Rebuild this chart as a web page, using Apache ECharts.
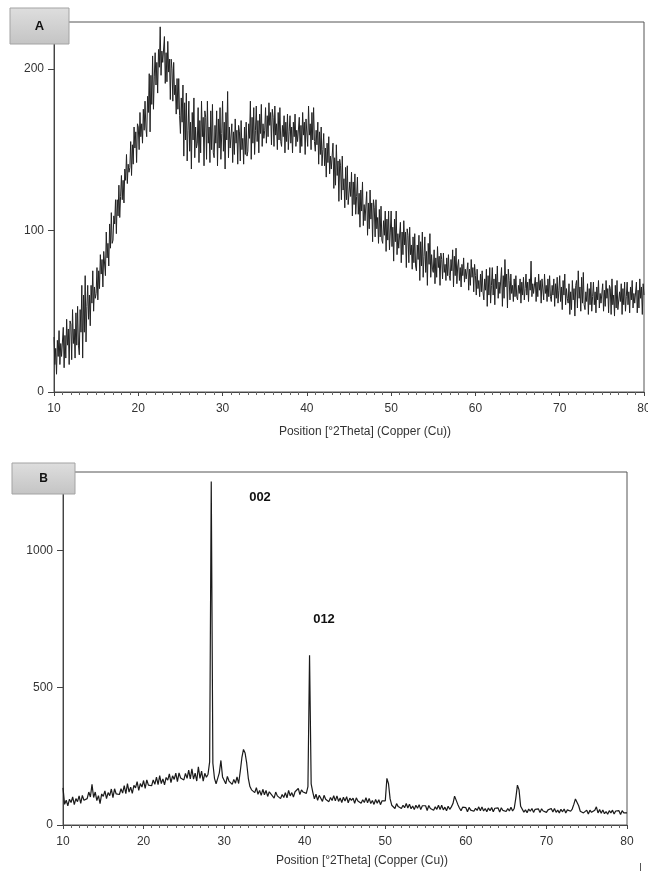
<!DOCTYPE html>
<html>
<head>
<meta charset="utf-8">
<script src="https://cdn.jsdelivr.net/npm/echarts@6/dist/echarts.min.js"></script>
<style>
  html, body { margin: 0; padding: 0; background: #fff; }
  #chart { width: 648px; height: 871px; }
</style>
</head>
<body>
<div id="chart"></div>
<script>
// scan A: start 10 °2θ, step 0.1 (one row per degree)
const startA = 10
const stepA = 0.1
const intensityA = [
  34, 17, 27, 11, 32, 22, 38, 17, 30, 22,
  23, 40, 15, 35, 21, 45, 29, 39, 17, 44,
  42, 20, 51, 30, 39, 21, 49, 29, 53, 29,
  23, 51, 37, 66, 21, 60, 37, 72, 31, 53,
  66, 45, 60, 41, 66, 55, 75, 50, 65, 58,
  61, 77, 57, 75, 64, 85, 73, 82, 65, 87,
  88, 72, 99, 83, 92, 78, 104, 89, 111, 92,
  94, 109, 104, 119, 98, 119, 109, 128, 108, 121,
  134, 119, 131, 117, 138, 131, 147, 129, 141, 136,
  139, 155, 134, 153, 141, 164, 151, 161, 142, 166,
  164, 150, 173, 158, 166, 154, 175, 162, 180, 164,
  158, 183, 173, 197, 161, 196, 178, 208, 175, 195,
  210, 190, 204, 185, 212, 201, 226, 196, 211, 204,
  203, 220, 191, 210, 192, 217, 198, 206, 181, 206,
  200, 180, 204, 184, 190, 172, 194, 175, 194, 171,
  160, 182, 167, 190, 146, 179, 156, 185, 143, 162,
  180, 149, 167, 138, 173, 156, 182, 145, 164, 151,
  154, 176, 142, 168, 148, 180, 158, 170, 140, 174,
  170, 144, 180, 154, 164, 142, 174, 150, 178, 148,
  145, 165, 154, 174, 140, 169, 151, 176, 144, 160,
  180, 149, 167, 138, 173, 156, 186, 145, 164, 151,
  151, 166, 142, 161, 147, 169, 154, 162, 141, 165,
  161, 143, 168, 150, 157, 141, 164, 147, 167, 146,
  149, 166, 157, 180, 144, 170, 154, 176, 147, 162,
  177, 155, 168, 148, 172, 160, 178, 152, 166, 157,
  162, 176, 154, 171, 158, 179, 165, 173, 153, 175,
  170, 152, 177, 159, 166, 150, 173, 156, 176, 155,
  152, 165, 158, 171, 148, 167, 155, 172, 150, 161,
  171, 154, 164, 148, 167, 158, 172, 152, 162, 155,
  156, 170, 148, 165, 152, 173, 159, 167, 147, 169,
  170, 152, 177, 159, 166, 150, 173, 156, 176, 155,
  149, 162, 153, 167, 141, 161, 147, 164, 140, 150,
  160, 140, 151, 133, 154, 142, 158, 135, 146, 138,
  137, 154, 126, 145, 128, 153, 134, 143, 118, 144,
  140, 119, 146, 125, 132, 114, 139, 119, 140, 116,
  115, 130, 121, 136, 109, 130, 116, 135, 110, 121,
  133, 110, 123, 102, 125, 112, 130, 103, 116, 106,
  107, 124, 97, 117, 101, 125, 107, 117, 93, 119,
  114, 96, 119, 101, 108, 92, 113, 96, 115, 94,
  92, 106, 97, 112, 87, 107, 94, 112, 88, 99,
  112, 90, 102, 81, 107, 93, 112, 85, 98, 89,
  90, 105, 80, 99, 85, 106, 91, 99, 77, 101,
  97, 80, 102, 85, 91, 76, 96, 80, 98, 78,
  75, 91, 82, 97, 69, 93, 78, 99, 71, 84,
  96, 74, 87, 66, 92, 79, 98, 71, 85, 76,
  74, 88, 67, 83, 71, 90, 77, 84, 66, 86,
  82, 70, 86, 74, 79, 69, 83, 72, 85, 72,
  69, 82, 75, 88, 65, 84, 72, 89, 67, 78,
  82, 69, 77, 65, 79, 72, 83, 68, 76, 70,
  69, 80, 63, 76, 66, 82, 71, 77, 62, 79,
  72, 60, 76, 64, 69, 59, 73, 62, 75, 62,
  57, 70, 63, 76, 53, 72, 60, 77, 55, 66,
  77, 60, 70, 54, 73, 64, 78, 58, 68, 61,
  62, 77, 53, 72, 58, 82, 65, 73, 52, 76,
  69, 57, 73, 61, 66, 56, 70, 59, 72, 59,
  57, 66, 61, 70, 55, 68, 60, 71, 57, 64,
  73, 60, 68, 56, 70, 63, 81, 59, 67, 61,
  61, 71, 56, 68, 59, 73, 63, 69, 55, 70,
  69, 57, 73, 61, 66, 56, 70, 59, 72, 59,
  56, 66, 60, 70, 53, 67, 58, 71, 55, 63,
  72, 56, 65, 51, 69, 60, 73, 54, 64, 58,
  55, 67, 48, 62, 51, 69, 57, 64, 47, 66,
  69, 52, 75, 58, 65, 50, 71, 55, 74, 54,
  51, 62, 56, 67, 48, 64, 54, 68, 50, 59,
  68, 54, 62, 49, 65, 57, 69, 52, 61, 55,
  56, 67, 50, 63, 53, 69, 58, 64, 49, 66,
  64, 48, 70, 54, 60, 47, 66, 52, 69, 51,
  51, 62, 56, 67, 48, 64, 54, 68, 50, 59,
  68, 54, 62, 49, 65, 57, 69, 52, 61, 55,
  56, 68, 49, 63, 52, 70, 58, 65, 48, 67,
  60
]

// scan B: start 10 °2θ, step 0.2 (one row per degree)
const startB = 10
const stepB = 0.2
const intensityB = [
  135, 75, 90, 70, 94,     82, 102, 74, 96, 85,     106, 79, 108, 90, 97,
  96, 120, 102, 148, 100,  120, 89, 107, 78, 113,   104, 124, 96, 118, 107,
  131, 100, 132, 113, 120, 111, 132, 116, 143, 114, 151, 120, 138, 115, 144,
  135, 158, 126, 151, 138, 162, 133, 164, 145, 152, 143, 164, 148, 174, 147,
  180, 151, 168, 146, 173, 163, 186, 154, 179, 166, 189, 158, 190, 171, 178,
  164, 188, 170, 200, 168, 204, 167, 189, 160, 212, 170, 196, 160, 188, 174,
  185, 230, 1250, 225, 170, 150, 170, 190, 235, 175, 176, 150, 177, 160, 167,
  148, 166, 152, 175, 151, 195, 245, 275, 262, 225, 170, 140, 128, 135, 118,
  136, 112, 126, 108, 130, 110, 126, 104, 121, 113, 118, 98, 120, 106, 111,
  96, 111, 100, 118, 99,   126, 106, 118, 102, 121, 117, 133, 111, 128, 120,
  125, 115, 140, 618, 150, 120, 95, 112, 90, 108,   106, 86, 108, 94, 99,
  85, 100, 89, 107, 88,    106, 86, 98, 82, 101,     87, 103, 81, 98, 90,
  98, 79, 99, 87, 91,      79, 92, 82, 99, 81,      97, 78, 89, 75, 93,
  79, 92, 74, 88, 81,      88, 170, 150, 95, 72,    77, 60, 78, 67, 71,
  60, 72, 63, 78, 62,      76, 59, 69, 56, 72,      61, 74, 56, 70, 63,
  70, 53, 71, 60, 64,      54, 66, 57, 72, 56,      72, 55, 65, 52, 68,
  57, 66, 78, 105, 112,    75, 62, 52, 65, 58,      63, 48, 64, 54, 58,
  50, 61, 53, 66, 52,      66, 51, 60, 48, 62,      52, 64, 48, 61, 54,
  62, 47, 63, 53, 57,      49, 60, 51, 65, 51,      60, 98, 145, 128, 68,
  61, 47, 55, 45, 58,      50, 60, 46, 57, 51,      59, 45, 59, 51, 54,
  46, 55, 48, 60, 47,      60, 46, 54, 44, 57,      48, 58, 44, 55, 49,
  50, 58, 75, 95, 102,     70, 50, 56, 44, 51,      54, 40, 54, 46, 49,
  54, 66, 44, 56, 43,      55, 41, 49, 39, 52,      44, 54, 40, 51, 45,
  52, 38, 52, 44, 47,
  44
]

const xTitle = 'Position [°2Theta] (Copper (Cu))'
const peakLabels = ['002', '012']

const toPairs = (arr, start, step) => arr.map((v, i) => [+(start + i * step).toFixed(2), v])

const font = 'Liberation Sans, Arial, sans-serif'
const axisColor = '#444'

const xAxisBase = (gridIndex) => ({
  type: 'value',
  gridIndex,
  min: 10,
  max: 80,
  interval: 10,
  axisLine: { show: true, lineStyle: { color: axisColor, width: 1 } },
  axisTick: { show: true, length: 4, lineStyle: { color: axisColor } },
  minorTick: { show: true, splitNumber: 10, length: 3, lineStyle: { color: '#666' } },
  splitLine: { show: false },
  minorSplitLine: { show: false },
  axisLabel: { margin: 11, fontSize: 12, color: '#333', fontFamily: font }
})

const yAxisBase = (gridIndex, max, interval) => ({
  type: 'value',
  gridIndex,
  min: 0,
  max,
  interval,
  axisLine: { show: true, lineStyle: { color: axisColor, width: 1 } },
  axisTick: { show: true, length: 6, lineStyle: { color: axisColor } },
  splitLine: { show: false },
  axisLabel: {
    margin: 10, fontSize: 12, color: '#333', fontFamily: font, showMaxLabel: false,
    formatter: (v) => String(v)
  }
})

const labelBox = (x, y, w, h, text, size) => ([
  {
    type: 'rect',
    z: 100,
    shape: { x, y, width: w, height: h },
    style: {
      fill: new echarts.graphic.LinearGradient(0, 0, 0, 1, [
        { offset: 0, color: '#dedede' },
        { offset: 1, color: '#c4c4c4' }
      ]),
      stroke: '#a3a3a3',
      lineWidth: 1
    }
  },
  {
    type: 'text',
    z: 101,
    x: x + w / 2,
    y: y + h / 2,
    style: { text, fontSize: size, fontWeight: 'bold', fontFamily: font, fill: '#111', align: 'center', verticalAlign: 'middle' }
  }
])

const chart = echarts.init(document.getElementById('chart'), null, { renderer: 'canvas' })

chart.setOption({
  animation: false,
  backgroundColor: '#fff',
  grid: [
    { left: 54, top: 22, width: 590, height: 370, show: true, borderColor: '#555', borderWidth: 1, outerBoundsMode: 'none' },
    { left: 63, top: 472, width: 564, height: 353, show: true, borderColor: '#555', borderWidth: 1, outerBoundsMode: 'none' }
  ],
  xAxis: [xAxisBase(0), xAxisBase(1)],
  yAxis: [yAxisBase(0, 229, 100), yAxisBase(1, 1285, 500)],
  series: [
    {
      type: 'line',
      xAxisIndex: 0,
      yAxisIndex: 0,
      data: toPairs(intensityA, startA, stepA),
      showSymbol: false,
      lineStyle: { color: '#222', width: 1 }
    },
    {
      type: 'line',
      xAxisIndex: 1,
      yAxisIndex: 1,
      data: toPairs(intensityB, startB, stepB),
      showSymbol: false,
      lineStyle: { color: '#1a1a1a', width: 1.2 }
    }
  ],
  graphic: [
    ...labelBox(10, 8, 59, 36, 'A', 13),
    ...labelBox(12, 463, 63, 31, 'B', 12),
    {
      type: 'text', x: 365, y: 432,
      style: { text: xTitle, fontSize: 12, fontFamily: font, fill: '#333', align: 'center', verticalAlign: 'middle' }
    },
    {
      type: 'text', x: 362, y: 861,
      style: { text: xTitle, fontSize: 12, fontFamily: font, fill: '#333', align: 'center', verticalAlign: 'middle' }
    },
    {
      type: 'text', x: 260, y: 497,
      style: { text: peakLabels[0], fontSize: 13, fontWeight: 'bold', fontFamily: font, fill: '#111', align: 'center', verticalAlign: 'middle' }
    },
    {
      type: 'text', x: 324, y: 619,
      style: { text: peakLabels[1], fontSize: 13, fontWeight: 'bold', fontFamily: font, fill: '#111', align: 'center', verticalAlign: 'middle' }
    },
    {
      type: 'line',
      shape: { x1: 640.5, y1: 863, x2: 640.5, y2: 871 },
      style: { stroke: '#555', lineWidth: 1 }
    }
  ]
})
</script>
</body>
</html>
